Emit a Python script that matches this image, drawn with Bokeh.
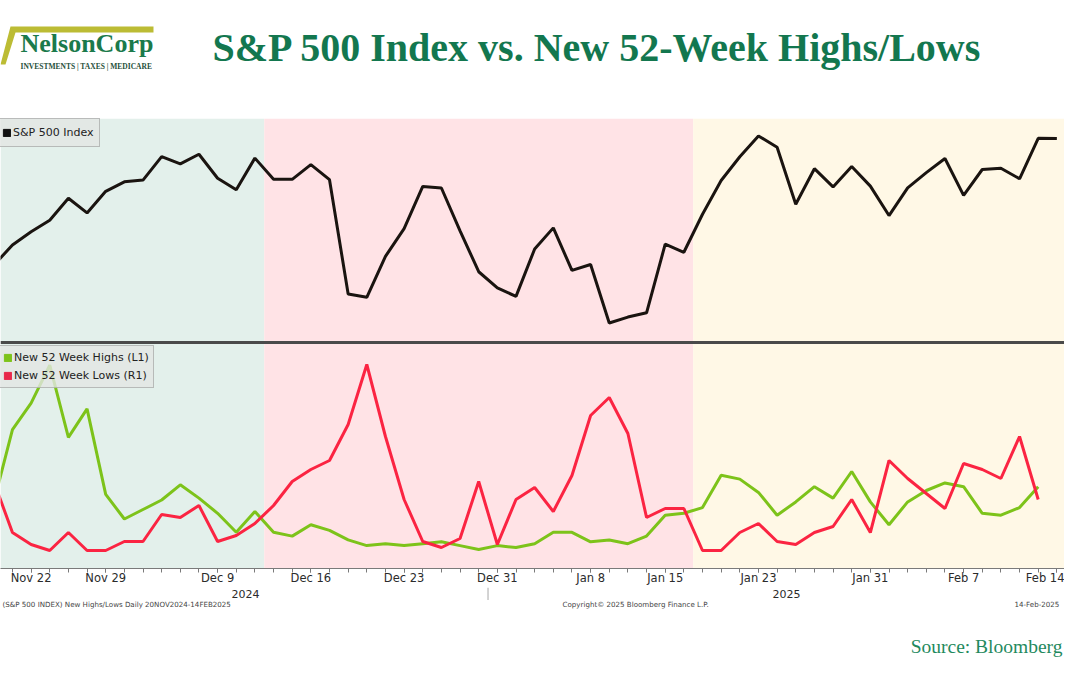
import datetime as dt
from bokeh.plotting import figure
from bokeh.layouts import column
from bokeh.models import (Range1d, FixedTicker, BoxAnnotation, Span, Label, Legend,
                          LegendItem, PolyAnnotation)
from bokeh.embed import file_html
from bokeh.resources import INLINE

# ---------------- data ----------------
trade_dates = [
    "2024-11-20", "2024-11-21", "2024-11-22", "2024-11-25", "2024-11-26", "2024-11-27", "2024-11-29",
    "2024-12-02", "2024-12-03", "2024-12-04", "2024-12-05", "2024-12-06",
    "2024-12-09", "2024-12-10", "2024-12-11", "2024-12-12", "2024-12-13",
    "2024-12-16", "2024-12-17", "2024-12-18", "2024-12-19", "2024-12-20",
    "2024-12-23", "2024-12-24", "2024-12-26", "2024-12-27", "2024-12-30", "2024-12-31",
    "2025-01-02", "2025-01-03", "2025-01-06", "2025-01-07", "2025-01-08", "2025-01-10",
    "2025-01-13", "2025-01-14", "2025-01-15", "2025-01-16", "2025-01-17",
    "2025-01-21", "2025-01-22", "2025-01-23", "2025-01-24",
    "2025-01-27", "2025-01-28", "2025-01-29", "2025-01-30", "2025-01-31",
    "2025-02-03", "2025-02-04", "2025-02-05", "2025-02-06", "2025-02-07",
    "2025-02-10", "2025-02-11", "2025-02-12", "2025-02-13", "2025-02-14",
]

spx_close = [
    5917.11, 5948.71, 5969.34, 5987.37, 6021.63, 5998.74, 6032.38,
    6047.15, 6049.88, 6086.49, 6075.11, 6090.27,
    6052.85, 6034.91, 6084.19, 6051.25, 6051.09,
    6074.08, 6050.61, 5872.16, 5867.08, 5930.85,
    5974.07, 6040.04, 6037.59, 5970.84, 5906.94, 5881.63,
    5868.55, 5942.47, 5975.38, 5909.03, 5918.25, 5827.04,
    5836.22, 5842.91, 5949.91, 5937.34, 5996.66,
    6049.24, 6086.37, 6118.71, 6101.24,
    6012.28, 6067.70, 6039.31, 6071.17, 6040.53,
    5994.57, 6037.88, 6061.48, 6083.57, 6025.99,
    6066.44, 6068.50, 6051.97, 6115.07, 6114.63,
]

new_highs = [34, 72, 86, 106, 68, 83, 38, 25, 30, 35, 43, 36, 28, 18, 29, 18, 16, 22, 19, 14,
             11, 12, 11, 12, 13, 11, 9, 11, 10, 12, 18, 18, 13, 14, 12, 16, 27, 28, 31, 48,
             46, 39, 27, 34, 42, 36, 50, 34, 22, 34, 40, 44, 42, 28, 27, 31, 42]

new_lows = [25, 8, 4, 2, 8, 2, 2, 5, 5, 14, 13, 17, 5, 7, 11, 17, 25, 29, 32, 44,
            64, 40, 19, 5, 3, 6, 25, 4, 19, 23, 15, 27, 47, 53, 41, 13, 16, 16, 2, 2,
            8, 11, 5, 4, 8, 10, 19, 8, 32, 26, 21, 16, 31, 29, 26, 40, 19]

tick_dates = ["2024-11-22", "2024-11-29", "2024-12-09", "2024-12-16", "2024-12-23",
              "2024-12-31", "2025-01-08", "2025-01-15", "2025-01-23", "2025-01-31",
              "2025-02-07", "2025-02-14"]

# market regimes (first trading day of each new regime)
regime_starts = ["2024-12-12", "2025-01-17"]
regime_colors = ["#e3f0eb", "#ffe3e6", "#fff8e6"]

title_text = "S&P 500 Index vs. New 52-Week Highs/Lows"

# ---------------- derived ----------------
idx = list(range(len(trade_dates)))
idx_hl = list(range(len(new_highs)))
dates = [dt.date.fromisoformat(d) for d in trade_dates]
major = [trade_dates.index(d) for d in tick_dates]
overrides = {i: f"{dates[i]:%b} {dates[i].day}" for i in major}

W = 1064
HEAD_H, FRAME_H, AXIS_B, YEAR_H, FOOT_H = 118, 450, 19, 13, 59
X0, X1 = 0.359, 57.41
xr = Range1d(X0, X1)

common = dict(output_backend="svg", toolbar_location=None, title=None, tools="")


def blank(height, x_range=None):
    f = figure(width=W, height=height, x_range=x_range or Range1d(0, 1),
               y_range=Range1d(0, height), x_axis_location=None, y_axis_location=None,
               min_border=0, **common)
    f.outline_line_color = None
    f.grid.visible = False
    return f


# ---------------- header ----------------
head = blank(HEAD_H)
head.add_layout(Label(x=597, y=71, x_units="screen", y_units="screen", text=title_text,
                      text_align="center", text_baseline="middle", text_font="Liberation Serif",
                      text_font_style="bold", text_font_size="40px", text_color="#13774f"))
head.add_layout(PolyAnnotation(xs=[10, 153, 153, 15, 5, 0], ys=[92, 92, 86, 86, 54, 54],
                               xs_units="screen", ys_units="screen", fill_color="#bcbc34",
                               fill_alpha=1, line_color=None))
head.add_layout(Label(x=20, y=61, x_units="screen", y_units="screen", text="NelsonCorp",
                      text_font="Liberation Serif", text_font_style="bold", text_font_size="26px",
                      text_color="#1b7a4b"))
head.add_layout(Label(x=20, y=48, x_units="screen", y_units="screen",
                      text="INVESTMENTS | TAXES | MEDICARE",
                      text_font="Liberation Serif", text_font_style="bold", text_font_size="7.5px",
                      text_color="#1f4f3a"))

# ---------------- main chart ----------------
p = figure(width=W, height=FRAME_H + AXIS_B, x_range=xr, y_range=Range1d(5444, 6146),
           y_axis_location=None, min_border_left=0, min_border_right=0,
           min_border_top=0, min_border_bottom=AXIS_B, **common)
p.extra_y_ranges = {"highs": Range1d(-1.05, 235.8), "lows": Range1d(-4, 146)}
p.outline_line_color = None
p.grid.visible = False
p.background_fill_color = "white"
p.border_fill_color = "white"

bounds = [None] + [trade_dates.index(d) - 0.5 for d in regime_starts] + [None]
for k, c in enumerate(regime_colors):
    p.add_layout(BoxAnnotation(left=bounds[k], right=bounds[k + 1], fill_color=c,
                               fill_alpha=1, line_color=None, level="underlay"))

p.add_layout(Span(location=5796.5, dimension="width", line_color="#4a4a4a", line_width=3))

p.line(idx, spx_close, line_color="#1a1410", line_width=3)
p.line(idx_hl, new_highs, line_color="#7dc31a", line_width=3, y_range_name="highs")
p.line(idx_hl, new_lows, line_color="#fb2442", line_width=3, y_range_name="lows")

# hidden area glyphs, used only for square legend swatches
spx_sw = p.vbar(x=idx, top=spx_close, width=0.5, color="#111111", visible=False)
hi_sw = p.vbar(x=idx_hl, top=new_highs, width=0.5, color="#7dc31a", y_range_name="highs",
               visible=False)
lo_sw = p.vbar(x=idx_hl, top=new_lows, width=0.5, color="#e8284a", y_range_name="lows",
               visible=False)


def make_legend(items, loc, pad, spacing):
    lg = Legend(items=items, location=loc, padding=pad, spacing=spacing, margin=0,
                label_text_font="DejaVu Sans", label_text_font_size="11px",
                label_text_color="#222222", label_standoff=2, label_height=15,
                glyph_width=9, glyph_height=9,
                background_fill_color="#e2e6e4", background_fill_alpha=0.8,
                border_line_color="#8c8c8c", border_line_width=1)
    p.add_layout(lg, "center")


make_legend([LegendItem(label="S&P 500 Index", renderers=[spx_sw])], (-5, 421), 6, 0)
make_legend([LegendItem(label="New 52 Week Highs (L1)", renderers=[hi_sw]),
             LegendItem(label="New 52 Week Lows (R1)", renderers=[lo_sw])], (-2, 180), 4, 3)

ax = p.xaxis[0]
ax.ticker = FixedTicker(ticks=major, minor_ticks=idx)
ax.major_label_overrides = overrides
ax.major_label_text_font = "DejaVu Sans"
ax.major_label_text_font_size = "11.5px"
ax.major_label_text_color = "#2b2b2b"
ax.major_label_standoff = -2
ax.axis_label_standoff = 0
ax.axis_line_color = "#7a7a7a"
ax.major_tick_line_color = "#7a7a7a"
ax.minor_tick_line_color = "#7a7a7a"
ax.major_tick_in = 0
ax.minor_tick_in = 0
ax.major_tick_out = 4
ax.minor_tick_out = 4

# ---------------- year row ----------------
yrow = blank(YEAR_H, x_range=xr)
for yr in (2024, 2025):
    ii = [i for i, d in enumerate(dates) if d.year == yr]
    yrow.add_layout(Label(x=(ii[0] + ii[-1]) / 2, y=YEAR_H / 2, text=str(yr),
                          text_align="center", text_baseline="middle", text_font="DejaVu Sans",
                          text_font_size="11px", text_color="#2b2b2b"))
first25 = [i for i, d in enumerate(dates) if d.year == 2025][0]
yrow.add_layout(Span(location=first25 - 1.5, dimension="height", line_color="#a8a8a8",
                     line_width=1))

# ---------------- footer ----------------
foot = blank(FOOT_H)
fs = dict(y=FOOT_H - 4, y_units="screen", x_units="screen", text_baseline="middle",
          text_font="DejaVu Sans", text_font_size="7.1px", text_color="#444444")
foot.add_layout(Label(x=2, text="(S&P 500 INDEX) New Highs/Lows  Daily 20NOV2024-14FEB2025", **fs))
foot.add_layout(Label(x=562, text="Copyright\u00a9 2025 Bloomberg Finance L.P.", **fs))
foot.add_layout(Label(x=1014, text="14-Feb-2025", **fs))
foot.add_layout(Label(x=1062, y=13, x_units="screen", y_units="screen", text="Source: Bloomberg",
                      text_align="right", text_baseline="middle", text_font="Liberation Serif",
                      text_font_size="19.5px", text_color="#1f8a5e"))

layout = column(head, p, yrow, foot, spacing=0)
open("out.html", "w").write(file_html(layout, INLINE))
